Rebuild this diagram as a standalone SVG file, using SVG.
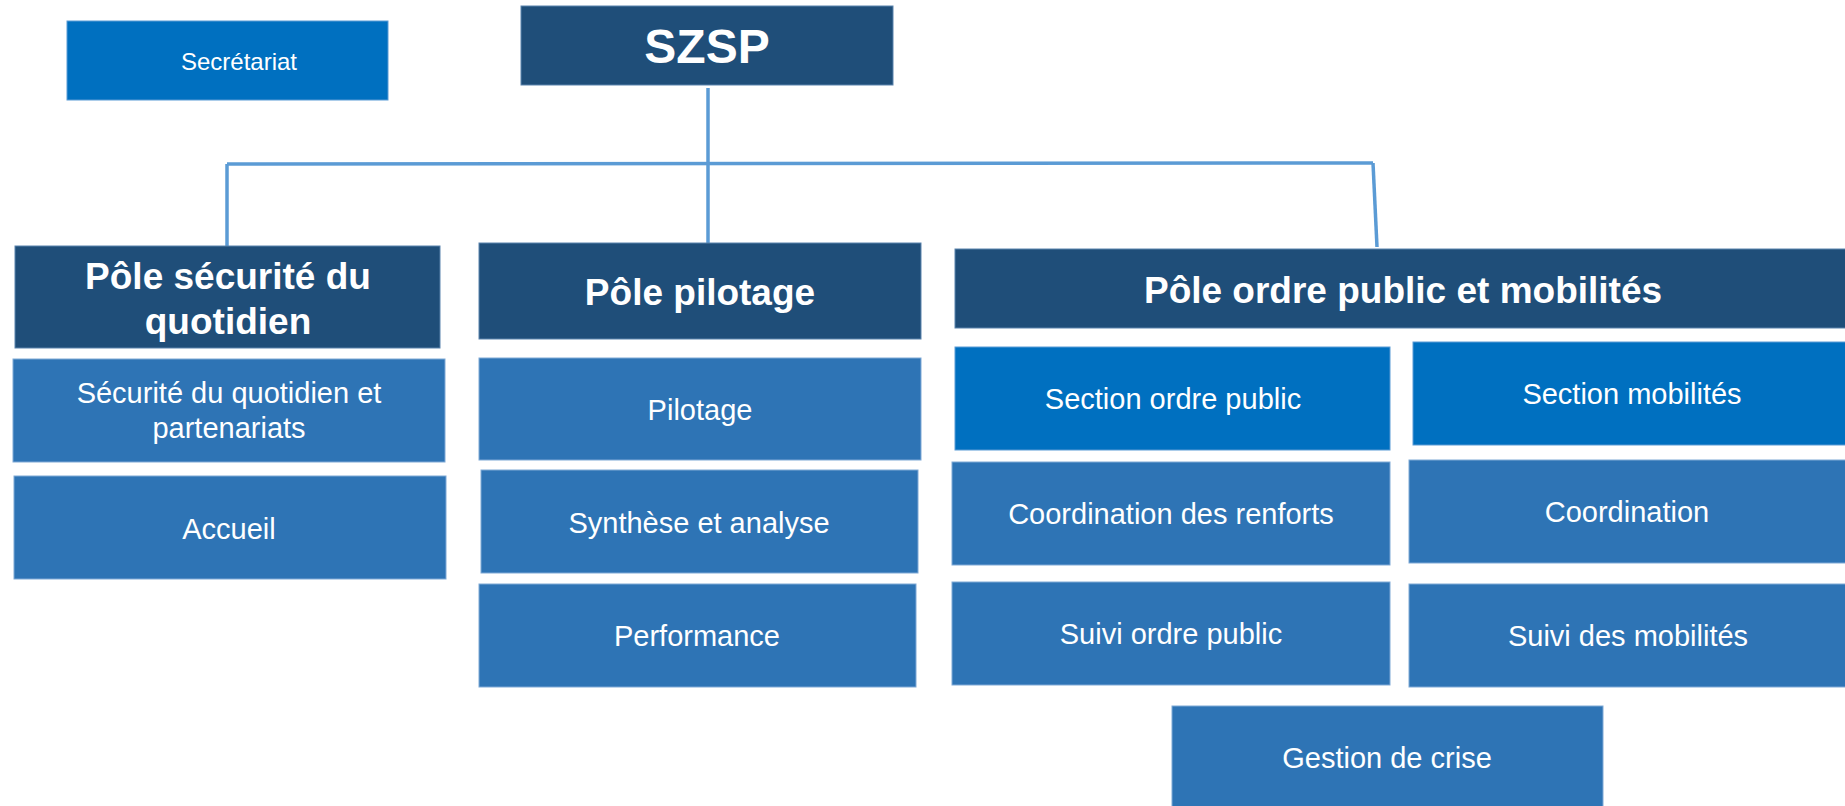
<svg xmlns="http://www.w3.org/2000/svg" width="1845" height="806" viewBox="0 0 1845 806">
<style>
.hdr{fill:#1F4E79;stroke:#5B83AD;stroke-width:1}
.sec{fill:#0070C0;stroke:#5B9BD5;stroke-width:1}
.sub{fill:#2E74B5;stroke:#7FA9D6;stroke-width:1}
text{font-family:"Liberation Sans",Arial,sans-serif;fill:#FFFFFF;text-anchor:middle}
.b{font-weight:bold;font-size:37px}
.n{font-size:29px}
.conn{stroke:#5B9BD5;fill:none;stroke-width:3.5}
</style>
<rect width="1845" height="806" fill="#FFFFFF"/>
<g id="connectors">
<line class="conn" x1="708" y1="88" x2="708" y2="252"/>
<line class="conn" x1="227" y1="164" x2="1373" y2="163" stroke-width="4"/>
<line class="conn" x1="227" y1="164" x2="227" y2="249"/>
<line class="conn" x1="1373" y1="163" x2="1377" y2="247"/>
</g>
<g id="secretariat"><rect class="sec" x="67" y="21" width="321" height="79"/><text x="239" y="70" style="font-size:24px">Secrétariat</text></g>
<g id="szsp"><rect class="hdr" x="521" y="6" width="372" height="79"/><text x="707" y="63" style="font-weight:bold;font-size:48px">SZSP</text></g>
<g id="pole-securite"><rect class="hdr" x="15" y="246" width="425" height="102"/><text class="b" x="228" y="289">Pôle sécurité du</text><text class="b" x="228" y="334">quotidien</text></g>
<g id="pole-pilotage"><rect class="hdr" x="479" y="243" width="442" height="96"/><text class="b" x="700" y="305">Pôle pilotage</text></g>
<g id="pole-ordre"><rect class="hdr" x="955" y="249" width="895" height="79"/><text class="b" x="1403" y="303">Pôle ordre public et mobilités</text></g>
<g id="securite-quotidien"><rect class="sub" x="13" y="359" width="432" height="103"/><text class="n" x="229" y="403">Sécurité du quotidien et</text><text class="n" x="229" y="438">partenariats</text></g>
<g id="accueil"><rect class="sub" x="14" y="476" width="432" height="103"/><text class="n" x="229" y="539">Accueil</text></g>
<g id="pilotage"><rect class="sub" x="479" y="358" width="442" height="102"/><text class="n" x="700" y="420">Pilotage</text></g>
<g id="synthese"><rect class="sub" x="481" y="470" width="437" height="103"/><text class="n" x="699" y="533">Synthèse et analyse</text></g>
<g id="performance"><rect class="sub" x="479" y="584" width="437" height="103"/><text class="n" x="697" y="646">Performance</text></g>
<g id="section-ordre"><rect class="sec" x="955" y="347" width="435" height="103"/><text class="n" x="1173" y="409">Section ordre public</text></g>
<g id="section-mobilites"><rect class="sec" x="1413" y="342" width="437" height="103"/><text class="n" x="1632" y="404">Section mobilités</text></g>
<g id="coord-renforts"><rect class="sub" x="952" y="462" width="438" height="103"/><text class="n" x="1171" y="524">Coordination des renforts</text></g>
<g id="coordination"><rect class="sub" x="1409" y="460" width="441" height="103"/><text class="n" x="1627" y="522">Coordination</text></g>
<g id="suivi-ordre"><rect class="sub" x="952" y="582" width="438" height="103"/><text class="n" x="1171" y="644">Suivi ordre public</text></g>
<g id="suivi-mobilites"><rect class="sub" x="1409" y="584" width="441" height="103"/><text class="n" x="1628" y="646">Suivi des mobilités</text></g>
<g id="gestion-crise"><rect class="sub" x="1172" y="706" width="431" height="105"/><text class="n" x="1387" y="768">Gestion de crise</text></g>
</svg>
